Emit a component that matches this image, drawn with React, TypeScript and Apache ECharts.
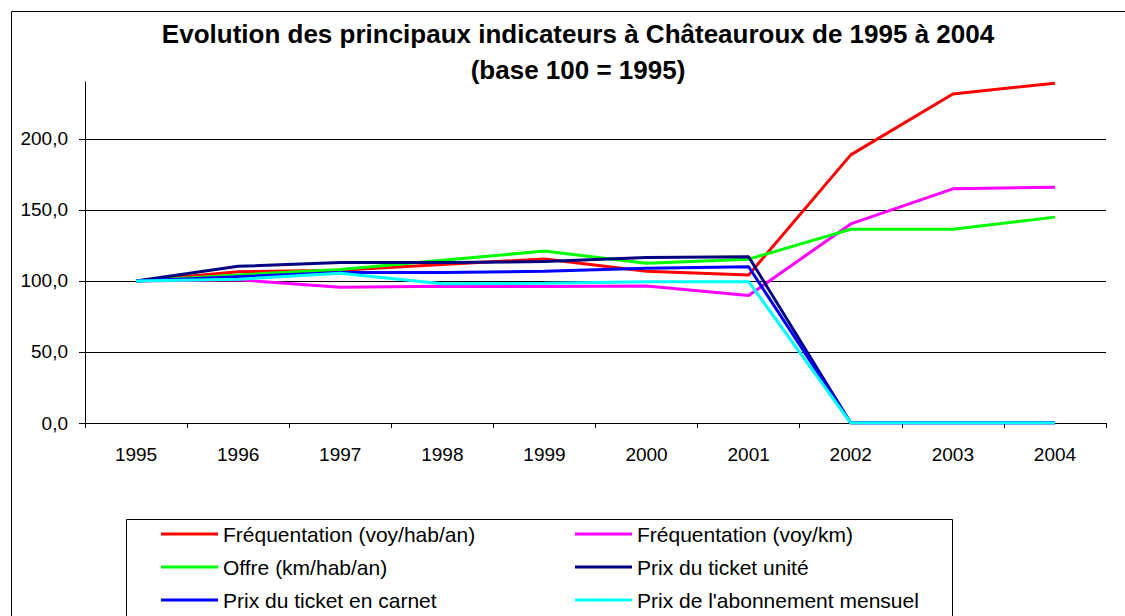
import React, { useEffect, useRef } from "react";
import * as echarts from "echarts";

const years = ["1995", "1996", "1997", "1998", "1999", "2000", "2001", "2002", "2003", "2004"];
const frequentationHab = [100, 106.5, 107.5, 111.5, 115.5, 106.8, 104.2, 188.7, 231.5, 239.2];
const frequentationKm = [100, 100.8, 95.6, 96.2, 96, 96.5, 89.7, 140.1, 164.8, 166];
const offre = [100, 104.2, 108, 114.5, 121, 112.4, 115.3, 136.4, 136.4, 144.9];
const prixUnite = [100, 110.3, 112.9, 113, 113.6, 116.5, 117, 0, 0, 0];
const prixCarnet = [100, 103, 106, 106, 106.8, 109, 110, 0, 0, 0];
const prixAbonnement = [100, 101.2, 105.4, 98, 98.4, 99.5, 99.5, 0, 0, 0];

const seriesNames = [
  "Fréquentation (voy/hab/an)",
  "Fréquentation (voy/km)",
  "Offre (km/hab/an)",
  "Prix du ticket unité",
  "Prix du ticket en carnet",
  "Prix de l'abonnement mensuel",
];
const seriesData = [frequentationHab, frequentationKm, offre, prixUnite, prixCarnet, prixAbonnement];
const seriesColors = ["#FF0000", "#FF00FF", "#00FF00", "#000080", "#0000FF", "#00FFFF"];

const FONT = "'Liberation Sans', Arial, sans-serif";

export default function App() {
  const ref = useRef<HTMLDivElement>(null);
  useEffect(() => {
    if (!ref.current) return;
    const chart = echarts.init(ref.current, undefined, { renderer: "svg" });
    const legendText = { fontFamily: FONT, fontSize: 21, color: "#000", lineHeight: 22 };
    const legendBase = {
      orient: "vertical",
      top: 523,
      height: 200,
      padding: 0,
      icon: "rect",
      itemWidth: 57,
      itemHeight: 3,
      itemGap: 11,
      textStyle: legendText,
    };
    chart.setOption({
      animation: false,
      backgroundColor: "#fff",
      title: {
        text: "Evolution des principaux indicateurs à Châteauroux de 1995 à 2004\n(base 100 = 1995)",
        left: 573,
        top: 11,
        textAlign: "center",
        textStyle: { fontFamily: FONT, fontSize: 26, fontWeight: "bold", color: "#000", lineHeight: 36 },
      },
      grid: { left: 85, right: 19, top: 82, bottom: 193, containLabel: false },
      legend: [
        { ...legendBase, left: 161, data: [seriesNames[0], seriesNames[2], seriesNames[4]] },
        { ...legendBase, left: 575, data: [seriesNames[1], seriesNames[3], seriesNames[5]] },
      ],
      xAxis: {
        type: "category",
        data: years,
        boundaryGap: true,
        axisLine: { show: true, lineStyle: { color: "#000", width: 1 } },
        axisTick: { show: true, length: 5, inside: false, lineStyle: { color: "#000" } },
        axisLabel: { fontFamily: FONT, fontSize: 19, color: "#000", margin: 22 },
        splitLine: { show: false },
      },
      yAxis: {
        type: "value",
        min: 0,
        max: 240,
        interval: 50,
        axisLine: { show: true, lineStyle: { color: "#000", width: 1 } },
        axisTick: { show: true, length: 6, lineStyle: { color: "#000" } },
        axisLabel: {
          fontFamily: FONT,
          fontSize: 19,
          color: "#000",
          margin: 17,
          showMaxLabel: false,
          formatter: (v: number) => (v > 200 ? "" : v.toFixed(1).replace(".", ",")),
        },
        splitLine: { show: true, showMaxLine: false, lineStyle: { color: "#000", width: 1 } },
      },
      graphic: [
        {
          type: "rect",
          shape: { x: 11.5, y: 11.5, width: 1200, height: 700 },
          style: { fill: "none", stroke: "#000", lineWidth: 1 },
          silent: true,
          z: -1,
        },
        {
          type: "rect",
          shape: { x: 126.5, y: 519.5, width: 826, height: 120 },
          style: { fill: "none", stroke: "#000", lineWidth: 1 },
          silent: true,
          z: -1,
        },
      ],
      series: seriesNames.map((name, i) => ({
        name,
        type: "line",
        data: seriesData[i],
        showSymbol: false,
        symbol: "none",
        color: seriesColors[i],
        lineStyle: { color: seriesColors[i], width: 3 },
      })),
    });
    return () => chart.dispose();
  }, []);
  return <div ref={ref} style={{ width: 1125, height: 616, position: "absolute", left: 0, top: 0 }} />;
}
